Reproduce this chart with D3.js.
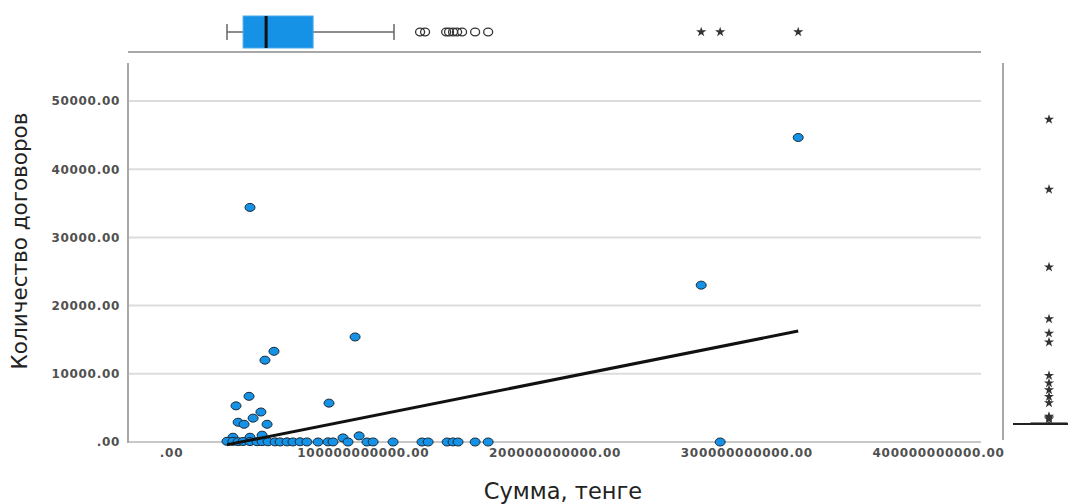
<!DOCTYPE html>
<html>
<head>
<meta charset="utf-8">
<script src="https://cdn.jsdelivr.net/npm/d3@7"></script>
<style>
  body { margin: 0; background: #fff; }
  svg { display: block; }
</style>
</head>
<body>
<svg width="1077" height="504"></svg>
<script>
// Scatter data: sum (billions of tenge) and number of contracts
const sumBn = [41.2, 327.1, 276.5, 286.4, 96.0, 53.7, 49.0, 82.4, 40.7, 33.9, 46.9, 42.8, 35.0, 38.1, 50.1,
    32.3, 41.2, 47.5, 89.7, 98.1,
    29.2, 32.3, 35.0, 37.6, 41.2, 44.9, 47.5, 50.6, 54.3, 56.9, 60.5, 63.6, 67.3, 70.9, 76.7, 81.9,
    84.5, 92.3, 102.2, 105.4, 115.8, 130.9, 134.1, 144.0, 147.1, 149.7, 158.6, 165.4];
const contracts = [34400, 44650, 23000, 0, 15400, 13300, 12000, 5700, 6700, 5300, 4400, 3500, 2900, 2600, 2600,
    700, 700, 1000, 600, 900,
    100, 100, 50, 80, 60, 40, 60, 30, 20, 10, 20, 10, 30, 10, 0, 20,
    10, 0, 0, 10, 0, 0, 0, 0, 10, 0, 0, 0];

// Linear fit: contracts = intercept + slope * sumBn
const fitIntercept = -2050;
const fitSlope = 56;

// Box plot of sum (top): [whisker low, Q1, median, Q3, whisker high]
const sumBox = [29.2, 37.6, 49.6, 74.1, 116.3];
const sumOutliers = [129.9, 132.5, 143.5, 145.0, 147.1, 149.2, 151.8, 158.6, 165.4];
const sumExtremes = [276.5, 286.4, 327.1];

// Box plot of contracts (right)
const contractsBox = [0, 0, 50, 150, 300];
const contractsExtremes = [44650, 34400, 23000, 15400, 13300, 12000, 7100, 6000, 5000, 4000, 3100,
    1100, 900, 700];

// Ticks
const xTicks = [0, 100, 200, 300, 400];
const yTicks = [0, 10000, 20000, 30000, 40000, 50000];

const svg = d3.select('svg');
const plot = { left: 128, right: 981, top: 63, bottom: 443 };
const blue = '#1592e6';
const tickFmt = v => v === 0 ? '.00' : d3.format('.2f')(v);

const x = d3.scaleLinear().domain([0, 400]).range([171, 938]);
const y = d3.scaleLinear().domain([0, 50000]).range([442, 101]);
// right box plot is drawn on its own, slightly shifted scale
const yRight = d3.scaleLinear().domain([0, 50000]).range([424, 83]);

// Grid lines
svg.append('g')
    .selectAll('line')
    .data(yTicks.filter(d => d > 0))
    .join('line')
    .attr('x1', plot.left).attr('x2', plot.right)
    .attr('y1', d => y(d)).attr('y2', d => y(d))
    .attr('stroke', '#dcdcdc')
    .attr('stroke-width', 2);

// Bottom line and left axis
svg.append('line')
    .attr('x1', plot.left).attr('x2', plot.right)
    .attr('y1', y(0)).attr('y2', y(0))
    .attr('stroke', '#c8c8c8').attr('stroke-width', 2);
svg.append('line')
    .attr('x1', plot.left).attr('x2', plot.left)
    .attr('y1', plot.top).attr('y2', plot.bottom)
    .attr('stroke', '#a8a8a8').attr('stroke-width', 2);

// Y axis labels
const yAxis = svg.append('g')
    .attr('transform', `translate(${plot.left - 8},0)`)
    .call(d3.axisLeft(y).tickValues(yTicks).tickFormat(tickFmt).tickSize(0).tickPadding(0));
yAxis.select('.domain').remove();

// X axis labels
const xAxis = svg.append('g')
    .attr('transform', `translate(0,${plot.bottom + 5})`)
    .call(d3.axisBottom(x).tickValues(xTicks).tickFormat(v => tickFmt(v * 1e9)).tickSize(0).tickPadding(0));
xAxis.select('.domain').remove();

svg.selectAll('.tick text')
    .attr('font-family', 'DejaVu Sans')
    .attr('font-size', 12)
    .attr('font-weight', 'bold')
    .attr('letter-spacing', 0.7)
    .attr('fill', '#505050');

// Axis titles
svg.append('text')
    .attr('transform', 'translate(27,241) rotate(-90)')
    .attr('text-anchor', 'middle')
    .attr('font-family', 'DejaVu Sans')
    .attr('font-size', 21.5)
    .attr('fill', '#222')
    .text('Количество договоров');

svg.append('text')
    .attr('x', 563)
    .attr('y', 499)
    .attr('text-anchor', 'middle')
    .attr('font-family', 'DejaVu Sans')
    .attr('font-size', 22.5)
    .attr('fill', '#222')
    .text('Сумма, тенге');

// Scatter points
svg.append('g')
    .selectAll('ellipse')
    .data(sumBn.map((s, i) => ({ s, c: contracts[i] })))
    .join('ellipse')
    .attr('cx', d => x(d.s))
    .attr('cy', d => y(d.c))
    .attr('rx', 5)
    .attr('ry', 4)
    .attr('fill', blue)
    .attr('stroke', '#1a2b3a')
    .attr('stroke-width', 1);

// Fit line, drawn above the points
const fitX = d3.extent(sumBn);
svg.append('line')
    .attr('x1', x(fitX[0])).attr('y1', y(fitIntercept + fitSlope * fitX[0]))
    .attr('x2', x(fitX[1])).attr('y2', y(fitIntercept + fitSlope * fitX[1]))
    .attr('stroke', '#111')
    .attr('stroke-width', 3);

// Top box plot
const topY = 32;
const topG = svg.append('g');
topG.append('line')
    .attr('x1', plot.left).attr('x2', plot.right)
    .attr('y1', 52).attr('y2', 52)
    .attr('stroke', '#a8a8a8').attr('stroke-width', 2);
topG.append('line')
    .attr('x1', x(sumBox[0])).attr('x2', x(sumBox[4]))
    .attr('y1', topY).attr('y2', topY)
    .attr('stroke', '#666').attr('stroke-width', 1.5);
[sumBox[0], sumBox[4]].forEach(v => {
    topG.append('line')
        .attr('x1', x(v)).attr('x2', x(v))
        .attr('y1', topY - 8).attr('y2', topY + 8)
        .attr('stroke', '#666').attr('stroke-width', 1.5);
});
topG.append('rect')
    .attr('x', x(sumBox[1]))
    .attr('y', topY - 16)
    .attr('width', x(sumBox[3]) - x(sumBox[1]))
    .attr('height', 32)
    .attr('fill', blue)
    .attr('stroke', '#4aa8ea');
topG.append('line')
    .attr('x1', x(sumBox[2])).attr('x2', x(sumBox[2]))
    .attr('y1', topY - 16).attr('y2', topY + 16)
    .attr('stroke', '#111').attr('stroke-width', 3);
topG.selectAll('.outlier')
    .data(sumOutliers)
    .join('ellipse')
    .attr('class', 'outlier')
    .attr('cx', d => x(d)).attr('cy', topY)
    .attr('rx', 4.5).attr('ry', 3.8)
    .attr('fill', 'none')
    .attr('stroke', '#333').attr('stroke-width', 1.3);
topG.selectAll('.extreme')
    .data(sumExtremes)
    .join('path')
    .attr('class', 'extreme')
    .attr('transform', d => `translate(${x(d)},${topY})`)
    .attr('d', d3.symbol(d3.symbolStar, 32))
    .attr('fill', '#333');

// Right box plot (collapsed near zero)
const rightX = 1049;
const rightG = svg.append('g');
rightG.append('line')
    .attr('x1', 1003).attr('x2', 1003)
    .attr('y1', plot.top).attr('y2', 440)
    .attr('stroke', '#a8a8a8').attr('stroke-width', 2);
rightG.append('line')
    .attr('x1', 1013).attr('x2', 1068)
    .attr('y1', yRight(contractsBox[0])).attr('y2', yRight(contractsBox[0]))
    .attr('stroke', '#222').attr('stroke-width', 2);
rightG.append('rect')
    .attr('x', 1031)
    .attr('y', yRight(contractsBox[3]))
    .attr('width', 36)
    .attr('height', yRight(contractsBox[1]) - yRight(contractsBox[3]))
    .attr('fill', '#222')
    .attr('stroke', '#222');
rightG.append('line')
    .attr('x1', rightX).attr('x2', rightX)
    .attr('y1', yRight(contractsBox[3])).attr('y2', yRight(contractsBox[4]))
    .attr('stroke', '#222').attr('stroke-width', 1.5);
rightG.selectAll('.extreme')
    .data(contractsExtremes)
    .join('path')
    .attr('class', 'extreme')
    .attr('transform', d => `translate(${rightX},${yRight(d)})`)
    .attr('d', d3.symbol(d3.symbolStar, 32))
    .attr('fill', '#333');
</script>
</body>
</html>
